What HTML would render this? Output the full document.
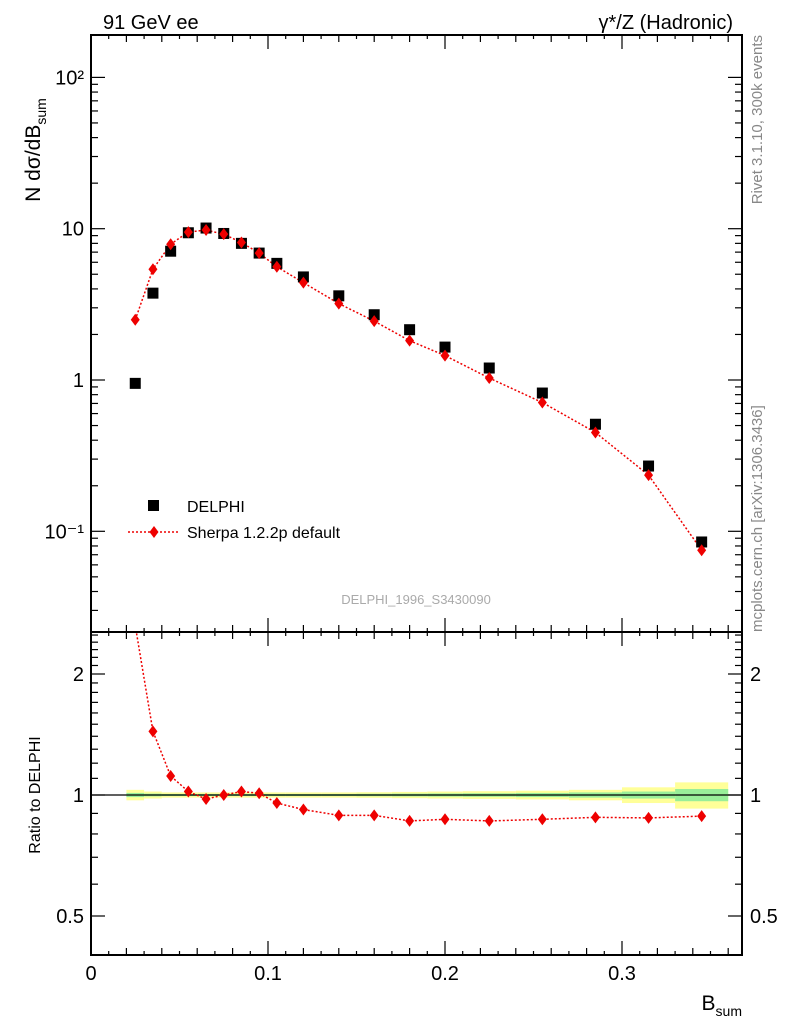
<!DOCTYPE html>
<html><head><meta charset="utf-8"><style>
html,body{margin:0;padding:0;background:#fff;}
svg{display:block;font-family:"Liberation Sans",Arial,sans-serif;}
</style></head><body>
<svg id="c" width="786" height="1024" viewBox="0 0 786 1024" xmlns="http://www.w3.org/2000/svg">
<text x="103" y="29" font-size="20">91 GeV ee</text>
<text x="733" y="29" font-size="20" text-anchor="end">γ*/Z (Hadronic)</text>
<text transform="translate(762,35) rotate(-90)" font-size="15" fill="#888" text-anchor="end">Rivet 3.1.10,  300k events</text>
<text transform="translate(762,632) rotate(-90)" font-size="15" fill="#888">mcplots.cern.ch [arXiv:1306.3436]</text>
<text x="416" y="604" font-size="13" fill="#aaa" text-anchor="middle">DELPHI_1996_S3430090</text>
<text transform="translate(40,150) rotate(-90)" font-size="21" text-anchor="middle">N dσ/dB<tspan font-size="14" dy="6">sum</tspan></text>
<text transform="translate(40,795) rotate(-90)" font-size="16" text-anchor="middle">Ratio to DELPHI</text>
<text x="742" y="1010" font-size="21" text-anchor="end">B<tspan font-size="14" dy="6">sum</tspan></text>
<g id="g"></g>
</svg>
<script>
const xs=[0.025,0.035,0.045,0.055,0.065,0.075,0.085,0.095,0.105,0.12,0.14,0.16,0.18,0.2,0.225,0.255,0.285,0.315,0.345];
const delphi=[0.95,3.75,7.1,9.4,10.1,9.3,8.0,6.9,5.9,4.8,3.6,2.7,2.15,1.65,1.2,0.82,0.51,0.27,0.085];
const sherpa=[2.5,5.4,7.9,9.5,9.8,9.2,8.1,6.9,5.6,4.4,3.2,2.45,1.82,1.45,1.03,0.71,0.45,0.235,0.075];
const ratio=[2.64,1.44,1.115,1.02,0.977,1.0,1.02,1.01,0.955,0.92,0.89,0.89,0.862,0.87,0.862,0.87,0.88,0.877,0.886];
const binLo=[0.02,0.03,0.04,0.05,0.06,0.07,0.08,0.09,0.10,0.11,0.13,0.15,0.17,0.19,0.21,0.24,0.27,0.30,0.33];
const binHi=[0.03,0.04,0.05,0.06,0.07,0.08,0.09,0.10,0.11,0.13,0.15,0.17,0.19,0.21,0.24,0.27,0.30,0.33,0.36];
const errStat=[0.012,0.008,0.006,0.006,0.006,0.006,0.006,0.006,0.006,0.006,0.006,0.007,0.008,0.009,0.01,0.012,0.015,0.02,0.035];
const errTot=[0.03,0.02,0.015,0.015,0.015,0.015,0.015,0.015,0.015,0.015,0.015,0.016,0.018,0.02,0.022,0.025,0.03,0.045,0.075];
const xTicks=[0,0.1,0.2,0.3];
const yTicks=[[0.1,'10⁻¹'],[1,'1'],[10,'10'],[100,'10²']];
const rTicks=[[0.5,'0.5'],[1,'1'],[2,'2']];

const NS='http://www.w3.org/2000/svg',G=document.getElementById('g');
const X0=91,X1=742,T0=35,T1=632,B1=955;
const X=v=>X0+v*1770;
const Y=v=>380-Math.log10(v)*151.3;
const R=v=>795-Math.log2(v)*121;
function el(t,a,p){const e=document.createElementNS(NS,t);for(const k in a)e.setAttribute(k,a[k]);(p||G).appendChild(e);return e;}
// bands
const bands=el('g',{});
binLo.forEach((lo,i)=>{
 el('rect',{x:X(lo),y:R(1+errTot[i]),width:X(binHi[i])-X(lo),height:R(1-errTot[i])-R(1+errTot[i]),fill:'#ffff99'},bands);
 el('rect',{x:X(lo),y:R(1+errStat[i]),width:X(binHi[i])-X(lo),height:R(1-errStat[i])-R(1+errStat[i]),fill:'#99ee99'},bands);
});
el('line',{x1:X0,x2:X1,y1:R(1),y2:R(1),stroke:'#000','stroke-width':1.2});
// frames
const f1=el('rect',{x:X0,y:T0,width:X1-X0,height:T1-T0,fill:'none',stroke:'#000','stroke-width':2});

const f2=el('rect',{x:X0,y:T1,width:X1-X0,height:B1-T1,fill:'none',stroke:'#000','stroke-width':2});

// x ticks
for(let i=0;i<=36;i++){const v=i/100,x=X(v),maj=i%10==0,L=maj?14:(i%2==0?7:4);
 [[T1,1],[B1,-1],[T0,1],[T1,-1]].forEach(([y,d])=>el('line',{x1:x,x2:x,y1:y,y2:y+d*L,stroke:'#000','stroke-width':1.2}));}
xTicks.forEach(v=>{const t=el('text',{x:X(v),y:980,'font-size':20,'text-anchor':'middle'});t.textContent=String(v);});
// y ticks main
for(let d=-2;d<=2;d++)for(let m=1;m<10;m++){const v=m*Math.pow(10,d),y=Y(v);if(y<T0||y>T1)continue;const L=m==1?14:7;
 el('line',{x1:X0,x2:X0+L,y1:y,y2:y,stroke:'#000','stroke-width':1.2});el('line',{x1:X1,x2:X1-L,y1:y,y2:y,stroke:'#000','stroke-width':1.2});}
yTicks.forEach(([v,s])=>{const t=el('text',{x:84,y:Y(v)+7,'font-size':20,'text-anchor':'end'});t.textContent=s;});
// ratio ticks
for(let v=0.4;v<=2.55;v+=0.1){const y=R(v);const maj=[0.5,1,2].some(q=>Math.abs(q-v)<1e-6);const L=maj?14:7;
 el('line',{x1:X0,x2:X0+L,y1:y,y2:y,stroke:'#000','stroke-width':1.2});el('line',{x1:X1,x2:X1-L,y1:y,y2:y,stroke:'#000','stroke-width':1.2});}
rTicks.forEach(([v,s])=>{[[84,'end'],[750,'start']].forEach(([x,a])=>{const t=el('text',{x:x,y:R(v)+7,'font-size':20,'text-anchor':a});t.textContent=s;});});
// sherpa line main
const cp=el('clipPath',{id:'cr'});el('rect',{x:X0,y:T1,width:X1-X0,height:B1-T1},cp);
const sl=el('polyline',{points:xs.map((x,i)=>X(x)+','+Y(sherpa[i])).join(' '),fill:'none',stroke:'#e00','stroke-width':1.5,'stroke-dasharray':'2,2'});

const rl=el('polyline',{points:xs.map((x,i)=>X(x)+','+R(ratio[i])).join(' '),fill:'none',stroke:'#e00','stroke-width':1.5,'stroke-dasharray':'2,2','clip-path':'url(#cr)'});

function dia(x,y,p){return el('polygon',{points:`${x},${y-6} ${x+4.5},${y} ${x},${y+6} ${x-4.5},${y}`,fill:'#e00'},p);}
xs.forEach((x,i)=>{
 const s=el('rect',{x:X(x)-5.5,y:Y(delphi[i])-5.5,width:11,height:11,fill:'#000'});
 
 const d=dia(X(x),Y(sherpa[i]));
 if(R(ratio[i])>T1){const r=dia(X(x),R(ratio[i]));}
});
// legend
const lg=el('g',{});
el('rect',{x:148,y:500,width:11,height:11,fill:'#000'},lg);
let t=el('text',{x:187,y:512,'font-size':16},lg);t.textContent='DELPHI';
el('line',{x1:128,x2:180,y1:532,y2:532,stroke:'#e00','stroke-width':1.5,'stroke-dasharray':'2,2'},lg);dia(154,532,lg);
t=el('text',{x:187,y:538,'font-size':16},lg);t.textContent='Sherpa 1.2.2p default';
</script>
</body></html>
